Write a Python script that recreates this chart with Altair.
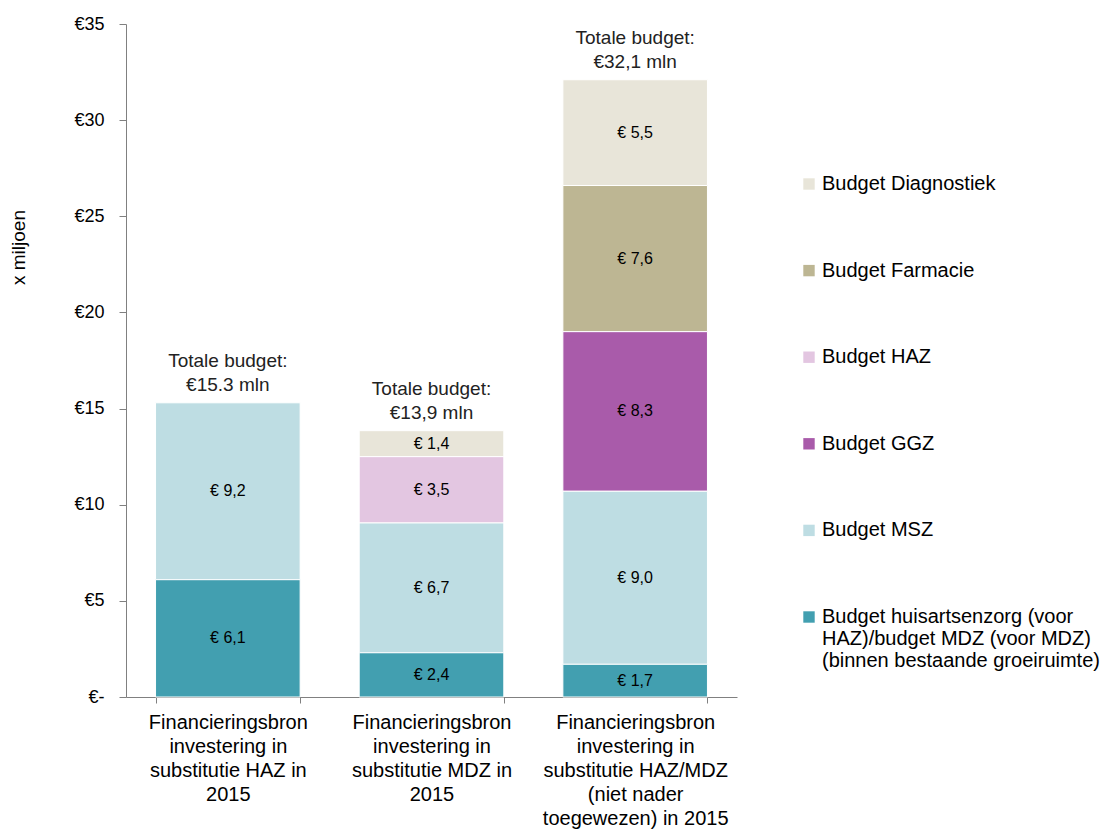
import altair as alt
import pandas as pd

categories = [
    "Financieringsbron|investering in|substitutie HAZ in|2015",
    "Financieringsbron|investering in|substitutie MDZ in|2015",
    "Financieringsbron|investering in|substitutie HAZ/MDZ|(niet nader|toegewezen) in 2015",
]
series = [
    "Budget Diagnostiek",
    "Budget Farmacie",
    "Budget HAZ",
    "Budget GGZ",
    "Budget MSZ",
    "Budget huisartsenzorg (voor|HAZ)/budget MDZ (voor MDZ)|(binnen bestaande groeiruimte)",
]
colors = ["#E8E5D9", "#BDB693", "#E3C6E1", "#A95BAA", "#BEDDE3", "#429FB0"]
stack_rank = [5, 4, 3, 2, 1, 0]

# values per category, in series order (None = absent)
values = [
    [None, None, None, None, 9.2, 6.1],
    [1.35, None, 3.45, None, 6.75, 2.3],
    [5.5, 7.6, None, 8.3, 9.0, 1.7],
]
value_labels = [
    [None, None, None, None, "€ 9,2", "€ 6,1"],
    ["€ 1,4", None, "€ 3,5", None, "€ 6,7", "€ 2,4"],
    ["€ 5,5", "€ 7,6", None, "€ 8,3", "€ 9,0", "€ 1,7"],
]
totals = [15.3, 13.85, 32.1]
total_labels = ["Totale budget:\n€15.3 mln", "Totale budget:\n€13,9 mln", "Totale budget:\n€32,1 mln"]

rows = []
for ci, cat in enumerate(categories):
    for si, s in enumerate(series):
        v = values[ci][si]
        if v is None:
            continue
        rows.append({"cat": cat, "series": s, "value": v, "rank": stack_rank[si],
                     "label": value_labels[ci][si]})
df = pd.DataFrame(rows)
tot = pd.DataFrame({"cat": categories, "total": totals, "tlabel": total_labels})

FONT = "Liberation Sans"

x_enc = alt.X("cat:N", sort=categories, title=None,
              scale=alt.Scale(paddingInner=0.29, paddingOuter=0.145),
              axis=alt.Axis(labelExpr="split(datum.label, '|')", labelAngle=0,
                            labelFontSize=20, labelLineHeight=24, labelColor="#000",
                            labelPadding=9, tickBand="extent", tickSize=6,
                            domainColor="#808080", tickColor="#808080", labelLimit=300))

y_scale = alt.Scale(domain=[0, 35], nice=False)

base = alt.Chart(df).transform_stack(
    stack="value", as_=["y0", "y1"], groupby=["cat"], sort=[alt.SortField("rank", order="ascending")]
).transform_calculate(mid="(datum.y0 + datum.y1) / 2")

bars = base.mark_bar(stroke="white", strokeWidth=1).encode(
    x=x_enc,
    y=alt.Y("y0:Q", scale=y_scale, title="x miljoen",
            axis=alt.Axis(values=[0, 5, 10, 15, 20, 25, 30, 35],
                          labelExpr="datum.value == 0 ? '€-' : '€' + datum.value",
                          labelFontSize=18, labelColor="#000", labelPadding=15,
                          tickSize=7, grid=False, domainColor="#808080", tickColor="#808080",
                          titleFontSize=19, titleFontWeight="normal", titleColor="#000",
                          titleAngle=-90, titleX=-108, titleY=223,
                          titleAlign="center", titleBaseline="middle")),
    y2="y1:Q",
    color=alt.Color("series:N", scale=alt.Scale(domain=series, range=colors),
                    legend=alt.Legend(title=None, orient="none", legendX=673, legendY=150,
                                      symbolType="square", symbolSize=130, symbolStrokeWidth=0,
                                      labelFontSize=20, labelColor="#000", labelLimit=400,
                                      labelExpr="split(datum.label, '|')",
                                      rowPadding=66.6, labelOffset=3)),
)

texts = base.mark_text(fontSize=16, color="#000", font=FONT).encode(
    x=alt.X("cat:N", sort=categories),
    y=alt.Y("mid:Q", scale=y_scale),
    text="label:N",
)

tot_text = alt.Chart(tot).mark_text(
    fontSize=19, color="#222", font=FONT, baseline="bottom", dy=-32, lineHeight=24,
    lineBreak="\n"
).encode(
    x=alt.X("cat:N", sort=categories),
    y=alt.Y("total:Q", scale=y_scale),
    text="tlabel:N",
)

chart = alt.layer(bars, texts, tot_text).properties(
    width=611, height=673,
    autosize=alt.AutoSizeParams(type="none"),
    padding={"left": 118, "top": 16, "right": 371, "bottom": 134},
).configure(font=FONT).configure_view(strokeWidth=0)

chart.save("out.html", embed_options={"renderer": "svg", "actions": False})
